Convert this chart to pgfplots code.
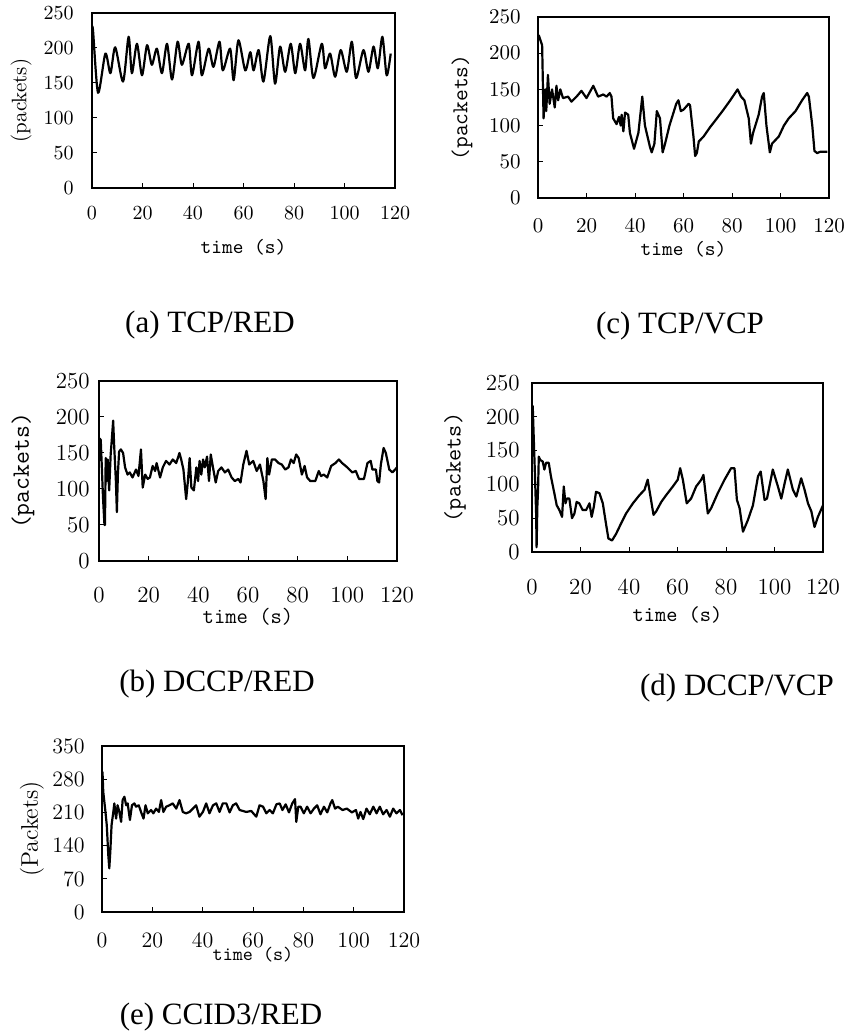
\documentclass[border=0pt]{standalone}
\usepackage{fontspec}
\usepackage{pgfplots}
\pgfplotsset{compat=1.18}
\newfontfamily\capfont{Liberation Serif}

\pgfplotsset{
 panel/.style={
  scale only axis, anchor=south west,
  xmin=0, xmax=120, ymin=0,
  xtick={0,20,...,120},
  tick align=inside, tick pos=left,
  major tick length=2.5pt,
  tick style={black, line width=0.5pt},
  axis line style={line width=1pt},
  /pgf/number format/assume math mode=true,
  xticklabel style={anchor=center, inner sep=0pt},
  yticklabel style={anchor=east, inner sep=0pt},
 },
 ser/.style={black, no marks, line width=1.1pt, line join=round},
}

\begin{document}
\begin{tikzpicture}
\path[use as bounding box] (0,0) rectangle (424pt,516.5pt);

% (a) TCP/RED
\begin{axis}[panel, at={(46pt,422.5pt)}, width=151.5pt, height=87.5pt,
 ymax=250, ytick={0,50,...,250},
 tick label style={font=\fontsize{10}{12}\selectfont},
 xticklabel style={yshift=-12.5pt}, yticklabel style={xshift=-9pt},
 xlabel={time (s)}, xlabel style={at={(axis description cs:0.5,-0.337)}, anchor=center, font=\fontsize{10.2}{12}\ttfamily},
 ylabel={(packets)}, ylabel style={at={(axis description cs:-0.2343,0.5)}, anchor=center, font=\fontsize{10.5}{12}\selectfont}]
\addplot[ser, smooth, tension=0.45] coordinates {(0,228)(0.4,225)(2.4,136)(5.3,192)(7.3,164)(9.2,201)(12.3,152)(14.5,216)(15.8,164)(17.8,206)(19.8,161)(21.8,204)(23.7,176)(25.7,199)(27.7,164)(29.7,206)(31.7,155)(33.9,209)(35.6,176)(38.3,206)(39.6,161)(42.2,209)(43.5,161)(46.2,199)(48.1,173)(50.5,209)(51.8,168)(54.7,199)(56.1,154)(58.0,211)(60.7,168)(62.7,194)(64.0,168)(66.0,197)(67.9,152)(70.6,217)(72.5,149)(74.5,202)(76.5,166)(78.7,206)(80.5,164)(82.4,206)(84.4,168)(85.7,213)(87.7,157)(91.0,206)(92.3,171)(94.3,192)(96.3,159)(98.5,197)(100.9,166)(102.9,209)(104.6,157)(107.5,197)(109.5,166)(111.5,202)(113.2,171)(115.0,216)(116.7,161)(118.3,192)};
\end{axis}

% (c) TCP/VCP
\begin{axis}[panel, at={(269pt,417.5pt)}, width=145.5pt, height=90.5pt,
 ymax=250, ytick={0,50,...,250},
 tick label style={font=\fontsize{10.5}{12}\selectfont},
 xticklabel style={yshift=-14pt}, yticklabel style={xshift=-8.5pt},
 xlabel={time (s)}, xlabel style={at={(axis description cs:0.5,-0.2818)}, anchor=center, font=\fontsize{10.2}{12}\ttfamily},
 ylabel={(packets)}, ylabel style={at={(axis description cs:-0.2612,0.5)}, anchor=center, font=\fontsize{11.4}{12}\ttfamily}]
\addplot[ser] coordinates {(0.3,225)(1.7,211)(2.3,110)(3.0,150)(3.4,120)(4.1,170)(4.8,130)(5.8,150)(6.9,125)(7.6,155)(8.3,135)(9.2,150)(10.3,138)(12.4,140)(13.8,133)(15.9,140)(17.9,148)(20.0,138)(22.8,155)(24.8,140)(26.9,143)(28.3,140)(29.6,145)(30.3,140)(31.0,110)(32.4,102)(33.4,112)(34.1,100)(34.5,115)(35.2,92)(35.9,118)(37.2,115)(37.9,90)(39.6,68)(41.4,90)(43.0,140)(44.1,100)(46.2,70)(46.9,63)(48.0,75)(49.0,120)(50.3,110)(51.4,63)(52.4,75)(54.2,100)(55.6,115)(57.0,130)(57.9,135)(58.9,120)(60.0,122)(62.1,130)(62.7,128)(64.1,85)(64.8,58)(65.5,62)(66.3,78)(68.3,85)(71.0,98)(73.8,110)(76.5,122)(79.3,135)(82.3,150)(83.7,140)(85.1,135)(86.9,110)(87.8,75)(88.7,90)(91.0,115)(92.4,140)(93.1,145)(94.2,100)(95.6,63)(96.5,75)(99.3,85)(101.4,100)(103.4,110)(106.2,120)(108.9,135)(111.0,145)(111.7,140)(113.1,100)(114.0,65)(115.1,62)(116.5,64)(119.3,64)};
\end{axis}

% (b) DCCP/RED
\begin{axis}[panel, at={(49.5pt,236pt)}, width=149pt, height=90pt,
 ymax=250, ytick={0,50,...,250},
 tick label style={font=\fontsize{11.5}{13}\selectfont},
 xticklabel style={yshift=-17pt}, yticklabel style={xshift=-4.5pt},
 xlabel={time (s)}, xlabel style={at={(axis description cs:0.5,-0.3111)}, anchor=center, font=\fontsize{11}{12}\ttfamily},
 ylabel={(packets)}, ylabel style={at={(axis description cs:-0.2550,0.5)}, anchor=center, font=\fontsize{12.5}{13}\ttfamily}]
\addplot[ser] coordinates {(0,139)(0.3,170)(0.7,168)(1.1,134)(1.6,89)(2.2,50)(2.4,50)(2.7,143)(3.1,111)(3.5,141)(4.1,98)(4.7,148)(5.1,166)(5.7,195)(6.1,161)(6.8,111)(7.2,68)(7.6,120)(8.1,152)(8.8,155)(9.7,150)(10.5,130)(11.5,120)(12.4,123)(13.5,116)(14.9,127)(15.9,118)(16.9,155)(17.6,102)(18.6,120)(19.6,114)(20.5,116)(21.6,132)(22.6,125)(23.2,136)(24.6,116)(25.7,130)(27.0,139)(28.4,134)(29.7,141)(31.1,136)(32.4,150)(33.1,141)(34.0,127)(35.1,86)(35.8,111)(36.5,143)(37.2,102)(38.2,98)(39.2,130)(39.9,111)(40.5,139)(41.2,120)(41.9,141)(42.6,130)(43.5,145)(44.3,111)(45.0,148)(45.9,130)(47.0,109)(48.0,125)(49.3,130)(50.7,123)(52.0,127)(53.4,116)(54.7,111)(56.1,114)(57.0,109)(58.1,134)(59.4,153)(60.5,134)(62.1,139)(63.5,125)(64.8,134)(66.2,111)(67.1,86)(67.8,143)(68.5,120)(69.6,141)(70.9,141)(72.3,136)(73.6,134)(75.0,127)(76.3,130)(77.3,141)(78.4,136)(79.4,148)(80.4,143)(81.7,120)(82.8,132)(83.8,116)(85.1,111)(87.1,111)(88.5,125)(89.4,118)(90.5,120)(91.9,116)(93.5,132)(95.2,136)(96.6,141)(97.9,136)(100.0,130)(102.0,123)(103.4,125)(104.7,114)(106.7,114)(108.1,136)(109.4,139)(110.1,127)(111.5,127)(112.1,111)(112.8,109)(113.5,134)(114.6,157)(115.5,150)(116.9,127)(118.2,123)(120,130)};
\end{axis}

% (d) DCCP/VCP
\begin{axis}[panel, at={(266pt,240.5pt)}, width=145.5pt, height=84.5pt,
 ymax=250, ytick={0,50,...,250},
 tick label style={font=\fontsize{11.5}{13}\selectfont},
 xticklabel style={yshift=-17.5pt}, yticklabel style={xshift=-6pt},
 xlabel={time (s)}, xlabel style={at={(axis description cs:0.5,-0.3728)}, anchor=center, font=\fontsize{10.7}{12}\ttfamily},
 ylabel={(packets)}, ylabel style={at={(axis description cs:-0.2646,0.5)}, anchor=center, font=\fontsize{11.8}{13}\ttfamily}]
\addplot[ser] coordinates {(0,141)(0.3,216)(0.7,171)(1.1,127)(1.7,57)(1.9,7)(2.2,67)(2.5,92)(2.8,141)(3.4,136)(4.4,134)(5.1,122)(5.8,132)(6.9,132)(7.8,112)(9.2,87)(10.2,69)(11.3,62)(12.4,52)(13.1,97)(13.8,72)(14.4,79)(15.4,79)(16.5,50)(17.5,57)(18.4,74)(19.5,72)(20.9,62)(22.3,62)(23.7,72)(24.6,52)(25.5,67)(26.4,89)(27.8,87)(29.2,72)(30.5,42)(31.5,20)(33.0,17)(34.7,27)(36.7,42)(38.8,57)(41.6,72)(44.3,84)(46.4,92)(47.7,107)(48.4,92)(50.1,55)(51.2,60)(53.3,74)(55.3,84)(58.1,97)(60.1,107)(61.1,124)(62.2,107)(63.8,72)(65.6,79)(67.7,97)(69.8,107)(70.7,114)(72.5,57)(73.9,65)(76.6,87)(79.4,107)(82.1,124)(83.5,124)(84.5,77)(85.6,65)(87.0,30)(89.0,47)(91.1,69)(93.2,112)(94.3,119)(95.9,77)(96.9,79)(99.3,122)(101.4,97)(102.8,79)(104.2,102)(105.5,122)(107.6,92)(109.0,82)(111.0,109)(112.4,92)(113.8,72)(115.2,60)(116.5,37)(117.9,52)(120,69)};
\end{axis}

% (e) CCID3/RED
\begin{axis}[panel, at={(51pt,60.5pt)}, width=151pt, height=83pt,
 ymax=350, ytick={0,70,...,350},
 tick label style={font=\fontsize{11}{13}\selectfont},
 xticklabel style={yshift=-14pt}, yticklabel style={xshift=-8.5pt},
 xlabel={time (s)}, xlabel style={at={(axis description cs:0.5,-0.259)}, anchor=center, font=\fontsize{9.6}{11}\ttfamily},
 ylabel={(Packets)}, ylabel style={at={(axis description cs:-0.2318,0.5)}, anchor=center, font=\fontsize{12}{13}\selectfont}]
\addplot[ser] coordinates {(0,232)(0.2,295)(0.5,253)(1.3,215)(1.9,183)(2.5,120)(2.9,92)(3.3,127)(3.8,183)(4.5,211)(4.9,229)(5.6,197)(6.2,225)(6.9,211)(7.6,190)(8.2,236)(8.9,243)(9.6,225)(10.2,229)(11.1,194)(11.9,225)(12.9,229)(13.5,222)(14.6,225)(15.5,211)(16.5,197)(17.3,225)(18.2,208)(19.5,215)(20.4,208)(21.5,218)(22.6,211)(23.5,236)(24.4,211)(25.5,222)(26.8,225)(28.1,229)(29.5,218)(30.8,236)(32.1,211)(33.4,208)(34.8,211)(36.1,218)(37.4,225)(38.7,201)(40.1,211)(41.4,229)(42.7,208)(44.1,225)(45.4,229)(46.7,211)(48.0,229)(49.4,229)(50.7,210)(52.0,225)(53.3,229)(54.7,215)(56.0,213)(57.3,211)(59.3,213)(61.3,201)(62.6,225)(64.0,222)(65.3,208)(66.6,215)(67.9,208)(69.3,227)(70.6,229)(71.7,215)(73.0,227)(74.3,210)(75.6,229)(76.7,238)(77.2,190)(78.0,222)(78.9,222)(80.2,208)(81.5,222)(82.9,208)(84.2,218)(85.5,225)(86.8,206)(88.2,222)(89.5,210)(90.8,229)(91.5,236)(92.6,218)(93.7,222)(95.6,215)(97.3,218)(99.3,210)(100.9,215)(101.8,197)(102.7,211)(103.8,196)(105.1,218)(106.4,206)(107.8,222)(109.1,208)(110.4,222)(111.7,206)(113.1,215)(114.4,201)(115.7,218)(117.0,208)(118.4,215)(119.4,204)};
\end{axis}

% captions
\node[font=\capfont\fontsize{15.5}{18}\selectfont] at (105pt,354pt) {(a) TCP/RED};
\node[font=\capfont\fontsize{15.5}{18}\selectfont] at (340pt,353.5pt) {(c) TCP/VCP};
\node[font=\capfont\fontsize{15.5}{18}\selectfont] at (108.5pt,174.5pt) {(b) DCCP/RED};
\node[font=\capfont\fontsize{15.5}{18}\selectfont] at (368.5pt,172.5pt) {(d) DCCP/VCP};
\node[font=\capfont\fontsize{15.5}{18}\selectfont] at (110.5pt,8pt) {(e) CCID3/RED};
\end{tikzpicture}
\end{document}
